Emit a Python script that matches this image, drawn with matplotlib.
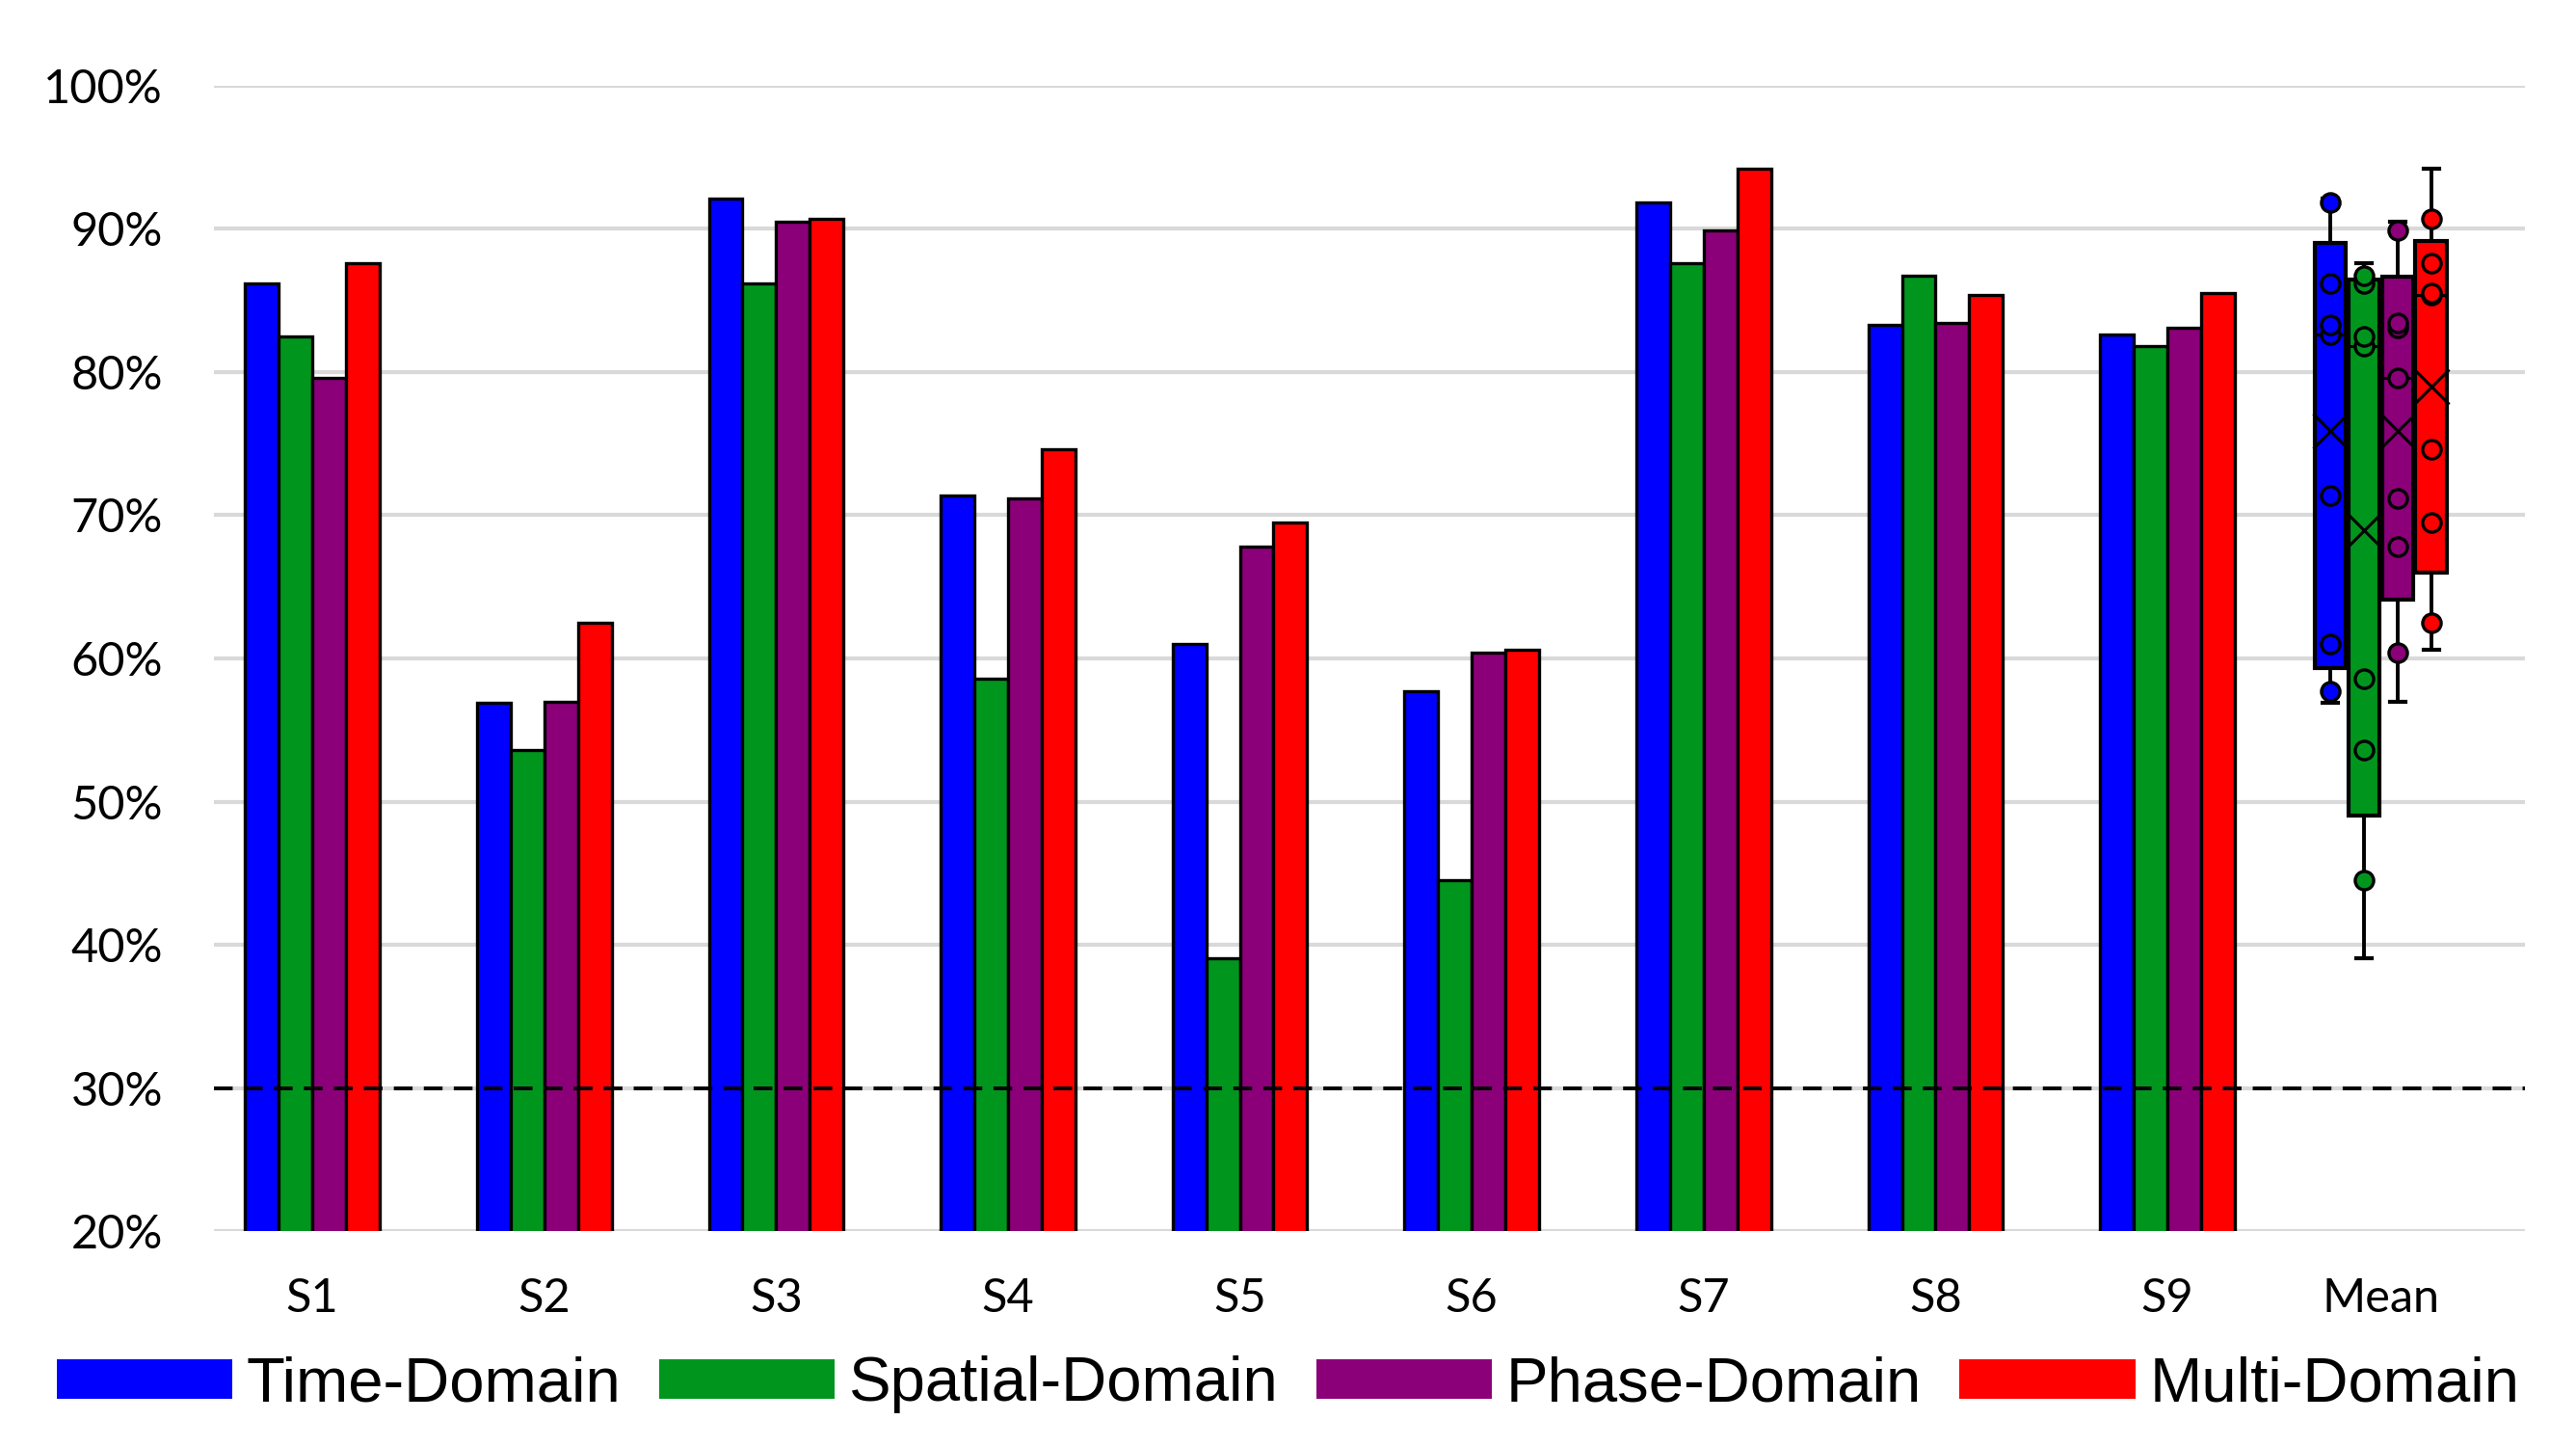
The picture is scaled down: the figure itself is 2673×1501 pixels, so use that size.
import numpy as np
import matplotlib
matplotlib.use("Agg")
import matplotlib.pyplot as plt
from matplotlib.patches import Patch

# values (%)
subjects = ["S1", "S2", "S3", "S4", "S5", "S6", "S7", "S8", "S9"]
series_names = ["Time-Domain", "Spatial-Domain", "Phase-Domain", "Multi-Domain"]
colors = ["#0000ff", "#00961e", "#8b0078", "#ff0000"]

time_dom = [86.2, 56.9, 92.1, 71.4, 61.0, 57.7, 91.8, 83.3, 82.6]
spatial_dom = [82.5, 53.6, 86.2, 58.6, 39.1, 44.5, 87.6, 86.7, 81.8]
phase_dom = [79.6, 57.0, 90.5, 71.2, 67.8, 60.4, 89.9, 83.4, 83.1]
multi_dom = [87.6, 62.5, 90.7, 74.6, 69.5, 60.6, 94.2, 85.4, 85.5]
chance_level = 30

all_series = [time_dom, spatial_dom, phase_dom, multi_dom]

plt.rcParams['font.family'] = ['Lato', 'DejaVu Sans']

fig = plt.figure(figsize=(26.73, 15.01), dpi=100)
ax = fig.add_axes([0.083, 0.149, 0.897, 0.792])

x = np.arange(len(subjects))
bw = 0.145
offsets = (np.arange(4) - 1.5) * bw

for vals, col, off in zip(all_series, colors, offsets):
    ax.bar(x + off, vals, width=bw, bottom=0, color=col, edgecolor="black",
           linewidth=2.4, zorder=3)

# Excel-style box plot (exclusive quartiles) at the "Mean" position
mean_pos = len(subjects) - 0.08
stats = []
for vals in all_series:
    v = np.array(vals)
    q1, med, q3 = np.percentile(v, [25, 50, 75], method="weibull")
    iqr = q3 - q1
    lo = v[v >= q1 - 1.5 * iqr].min()
    hi = v[v <= q3 + 1.5 * iqr].max()
    stats.append(dict(med=med, q1=q1, q3=q3, whislo=lo, whishi=hi,
                      mean=v.mean(), fliers=[]))

box_pos = mean_pos + offsets
bp = ax.bxp(stats, positions=box_pos, widths=0.135, patch_artist=True,
            showmeans=True, manage_ticks=False,
            medianprops=dict(color="black", linewidth=2.2),
            whiskerprops=dict(color="black", linewidth=2.8),
            capprops=dict(color="black", linewidth=3),
            boxprops=dict(edgecolor="black", linewidth=3),
            meanprops=dict(marker="x", markersize=26, markeredgecolor="black",
                           markeredgewidth=2.2))
for patch, col in zip(bp["boxes"], colors):
    patch.set_facecolor(col)
    patch.set_zorder(3)
for key in ["medians", "whiskers", "caps", "means"]:
    for art in bp[key]:
        art.set_zorder(4)

# inner points: everything except the min and max (those are the whisker ends)
for vals, col, p in zip(all_series, colors, box_pos):
    inner = sorted(vals)[1:-1]
    ax.scatter(np.full(len(inner), p), inner, s=190, facecolor=col,
               edgecolor="black", linewidth=2.4, zorder=5)

ax.axhline(chance_level, color="black", linestyle=(0, (5, 3)), linewidth=2.8,
           zorder=4)

ax.set_ylim(20, 100)
ax.set_xlim(-0.425, 9.54)
ax.set_yticks(np.arange(20, 101, 10))
ax.set_yticklabels([f"{v}%" for v in range(20, 101, 10)])
ax.set_xticks(list(x) + [mean_pos])
ax.set_xticklabels(subjects + ["Mean"])
ax.grid(axis="y", color="#d9d9d9", linewidth=3, zorder=0)
ax.set_axisbelow(True)
for s in ax.spines.values():
    s.set_visible(False)
ax.tick_params(axis="both", length=0, labelsize=35)
ax.tick_params(axis="y", pad=38)
ax.tick_params(axis="x", pad=34)

handles = [Patch(facecolor=c, edgecolor="none") for c in colors]
fig.legend(handles, series_names, loc="center", bbox_to_anchor=(0.5, 0.043),
           ncol=4, frameon=False, handlelength=2.8, handleheight=0.6,
           handletextpad=0.22, columnspacing=0.6,
           prop=dict(family=["Liberation Sans Narrow", "Liberation Sans"], size=47))

fig.savefig("out.png", dpi=100, facecolor="white")
